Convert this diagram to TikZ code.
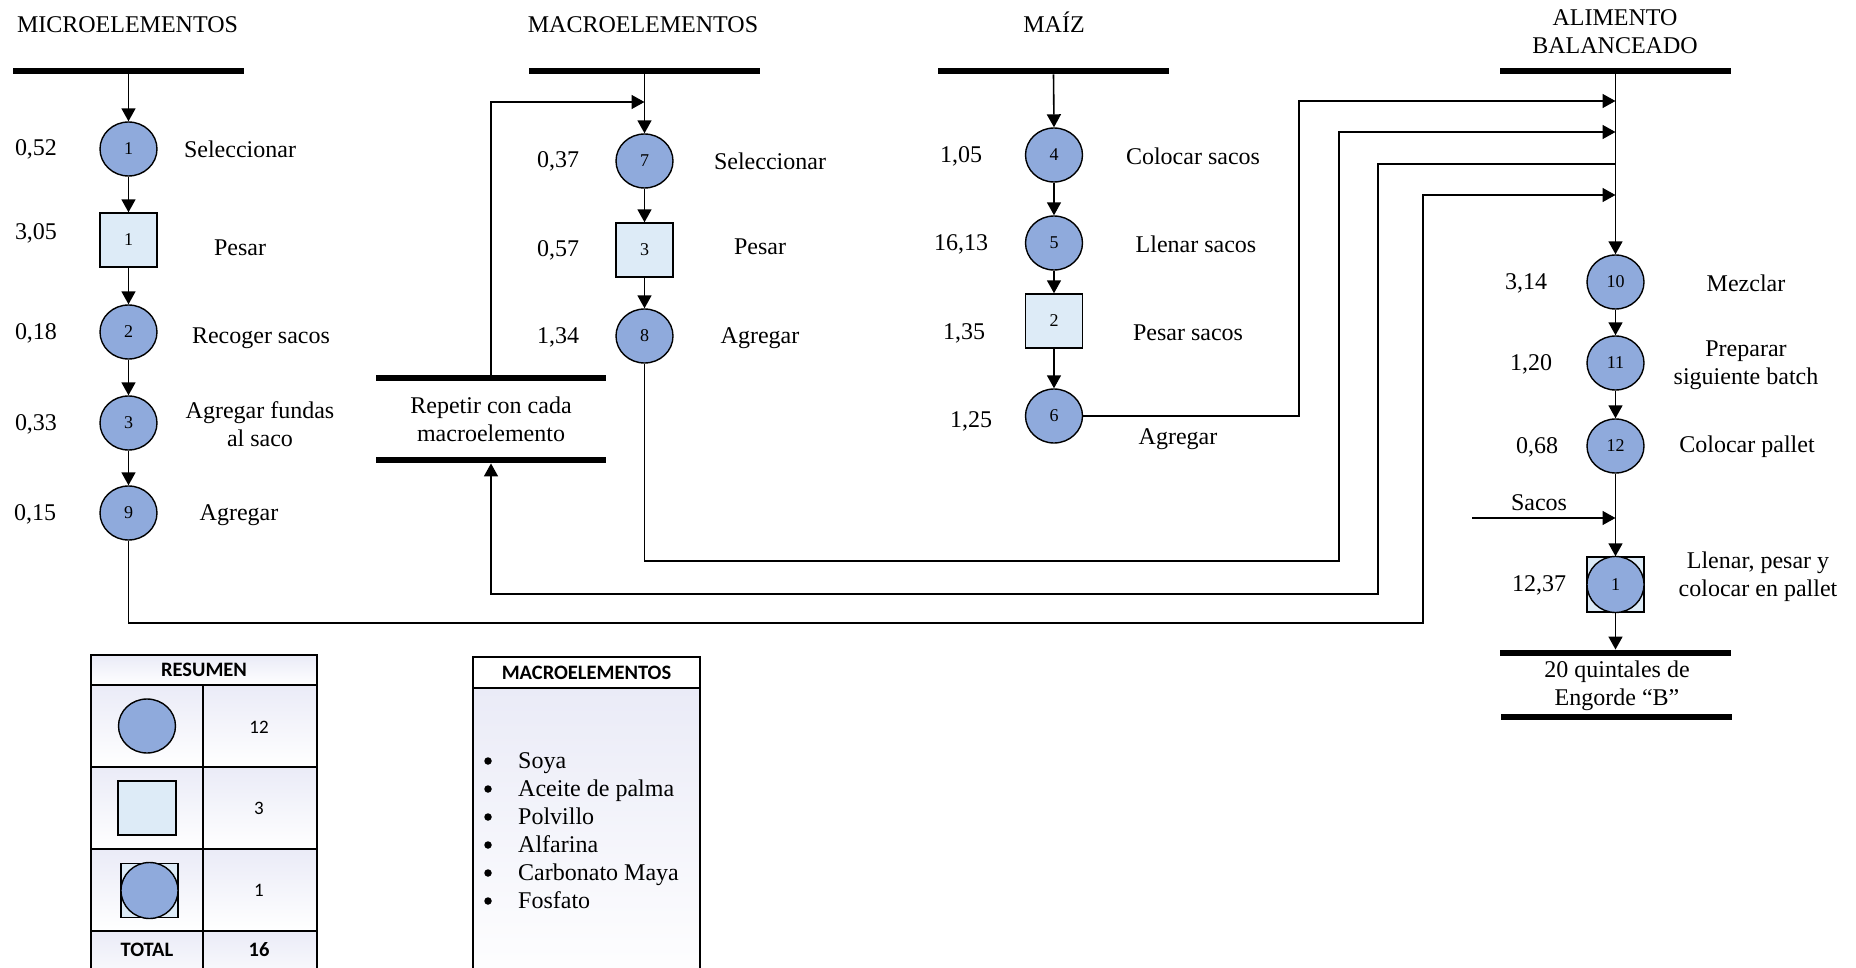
\documentclass[tikz,border=0pt]{standalone}
\usepackage{fontspec}
\setmainfont{Liberation Serif}
\newfontfamily\calib{Carlito}
\usetikzlibrary{arrows.meta,shapes.geometric}

\definecolor{opfill}{RGB}{143,170,220}
\definecolor{insfill}{RGB}{221,235,247}
\definecolor{cellshade}{RGB}{234,235,247}

\tikzset{
  lbl/.style={font=\fontsize{24}{28}\selectfont, align=center, inner sep=0pt},
  opc/.style={ellipse, draw, line width=1.4pt, fill=opfill, minimum width=57pt, minimum height=54pt, inner sep=0pt, font=\fontsize{18}{20}\selectfont},
  insp/.style={rectangle, draw, line width=1.4pt, fill=insfill, minimum width=57pt, minimum height=54pt, inner sep=0pt, font=\fontsize{18}{20}\selectfont},
  barnode/.style={rectangle, fill=black, minimum width=231pt, minimum height=6.5pt, inner sep=0pt},
  wire/.style={line width=1.6pt},
  flow/.style={wire, -{Triangle[length=13pt,width=14pt]}},
  cell/.style={draw, line width=1.5pt, top color=cellshade, bottom color=white},
  tabtxt/.style={font=\calib\fontsize{19}{22}\selectfont, inner sep=0pt},
  tabhead/.style={font=\calib\bfseries\fontsize{20.5}{22}\selectfont, inner sep=0pt},
  dot/.style={circle, fill=black, minimum size=7.5pt, inner sep=0pt},
}

\begin{document}
\begin{tikzpicture}[x=1pt,y=-1pt]
\useasboundingbox (0,0) rectangle (1856,968);
\clip (0,0) rectangle (1856,968);

% ---------- MICROELEMENTOS ----------
\node[lbl] at (127.5,25) {MICROELEMENTOS};
\node[barnode] (mb) at (128.5,71) {};
\node[opc]  (m1) at (128.5,149) {1};
\node[insp] (mi1) at (128.5,240) {1};
\node[opc]  (m2) at (128.5,332) {2};
\node[opc]  (m3) at (128.5,423) {3};
\node[opc]  (m9) at (128.5,513) {9};
\node[lbl] at (36,149) {0,52};
\node[lbl] at (36,233) {3,05};
\node[lbl] at (36,333) {0,18};
\node[lbl] at (36,424) {0,33};
\node[lbl] at (35,514) {0,15};
\node[lbl] at (240,149) {Seleccionar};
\node[lbl] at (240,248) {Pesar};
\node[lbl] at (261,338) {Recoger sacos};
\node[lbl] at (260,424) {Agregar fundas\\al saco};
\node[lbl] at (239,515) {Agregar};
\draw[flow] (mb.south) -- (m1.north);
\draw[flow] (m1) -- (mi1);
\draw[flow] (mi1) -- (m2);
\draw[flow] (m2) -- (m3);
\draw[flow] (m3) -- (m9);

% ---------- MACROELEMENTOS ----------
\node[lbl] at (643,25) {MACROELEMENTOS};
\node[barnode] (ab0) at (644.5,71) {};
\coordinate (k0) at (644.5,102);
\node[opc]  (a7) at (644.5,161) {7};
\node[insp] (ai3) at (644.5,250) {3};
\node[opc]  (a8) at (644.5,336) {8};
\node[lbl] at (558,161) {0,37};
\node[lbl] at (558,250) {0,57};
\node[lbl] at (558,337) {1,34};
\node[lbl] at (770,161) {Seleccionar};
\node[lbl] at (760,247) {Pesar};
\node[lbl] at (760,338) {Agregar};
\draw[flow] (ab0.south) -- (a7.north);
\draw[flow] (a7) -- (ai3);
\draw[flow] (ai3) -- (a8);

% repeat block
\node[barnode, minimum width=230pt] (rt) at (491,378) {};
\node[barnode, minimum width=230pt] (rb) at (491,460) {};
\node[lbl] at (491,419) {Repetir con cada\\macroelemento};
\draw[flow] (rt.north) -- (491,102) -- (k0);

% ---------- MAIZ ----------
\node[lbl] at (1054,22) {MAÍZ};
\node[barnode] (zb) at (1053.5,71) {};
\node[opc]  (z4) at (1054,155) {4};
\node[opc]  (z5) at (1054,243) {5};
\node[insp] (zi2) at (1054,321) {2};
\node[opc]  (z6) at (1054,416) {6};
\node[lbl] at (961,156) {1,05};
\node[lbl] at (961,244) {16,13};
\node[lbl] at (964,333) {1,35};
\node[lbl] at (971,421) {1,25};
\node[lbl] at (1193,156) {Colocar sacos};
\node[lbl] at (1196,244) {Llenar sacos};
\node[lbl] at (1188,333) {Pesar sacos};
\node[lbl] at (1178,439) {Agregar};
\draw[flow] (zb.south) -- (z4.north);
\draw[flow] (z4) -- (z5);
\draw[flow] (z5) -- (zi2);
\draw[flow] (zi2) -- (z6);

% ---------- ALIMENTO BALANCEADO ----------
\node[lbl] at (1615,32) {ALIMENTO\\BALANCEADO};
\node[barnode] (fb) at (1615.5,71) {};
\coordinate (j1) at (1615.5,101);
\coordinate (j2) at (1615.5,132);
\coordinate (j3) at (1615.5,164);
\coordinate (j4) at (1615.5,195);
\node[opc] (f10) at (1615.5,282) {10};
\node[opc] (f11) at (1615.5,363) {11};
\node[opc] (f12) at (1615.5,446) {12};
\node[insp, minimum height=55pt] (fcs) at (1615.5,584.5) {};
\node[opc, minimum height=56pt] (fc) at (1615.5,584.5) {1};
\node[barnode] (e1) at (1615.5,653) {};
\node[barnode] (e2) at (1616.5,717) {};
\node[lbl] at (1617,686) {20 quintales de\\Engorde “B”};
\node[lbl] at (1526,283) {3,14};
\node[lbl] at (1531,364) {1,20};
\node[lbl] at (1537,447) {0,68};
\node[lbl] at (1539,585) {12,37};
\node[lbl] at (1746,283) {Mezclar};
\node[lbl] at (1746,365) {Preparar\\siguiente batch};
\node[lbl] at (1747,447) {Colocar pallet};
\node[lbl] at (1758,577) {Llenar, pesar y\\colocar en pallet};
\draw[flow] (fb.south) -- (f10.north);
\draw[flow] (f10) -- (f11);
\draw[flow] (f11) -- (f12);
\draw[flow] (f12.south) -- (fcs.north);
\draw[flow] (fcs.south) -- (e1.north);
\coordinate (s0) at (1472,518);
\coordinate (s1) at (1615.5,518);
\draw[flow] (s0) -- (s1);
\node[lbl] at (1539,503) {Sacos};

% ---------- connecting loops ----------
\draw[flow] (z6.east) -- (1299,416) -- (1299,101) -- (j1);
\draw[flow] (a8.south) -- (644.5,561) -- (1339,561) -- (1339,132) -- (j2);
\draw[flow] (j3) -- (1378,164) -- (1378,594) -- (491,594) -- (rb.south);
\draw[flow] (m9.south) -- (128.5,623) -- (1423,623) -- (1423,195) -- (j4);

% ---------- RESUMEN table ----------
\path[cell] (91,655) rectangle (317,685);
\node[tabhead] at (204,670) {RESUMEN};
\path[cell] (91,685) rectangle (203,767);
\path[cell] (203,685) rectangle (317,767);
\path[cell] (91,767) rectangle (203,849);
\path[cell] (203,767) rectangle (317,849);
\path[cell] (91,849) rectangle (203,931);
\path[cell] (203,849) rectangle (317,931);
\path[cell] (91,931) rectangle (203,990);
\path[cell] (203,931) rectangle (317,990);
\node[opc] (t1) at (147,726) {};
\node[insp, minimum width=58pt] (t2) at (147,808) {};
\node[insp] (t3s) at (149.5,890.5) {};
\node[opc, minimum width=57pt, minimum height=56pt] (t3) at (149.5,890.5) {};
\node[tabtxt] at (259,727) {12};
\node[tabtxt] at (259,808) {3};
\node[tabtxt] at (259,890) {1};
\node[tabhead] at (147,950) {TOTAL};
\node[tabhead] at (259,950) {16};

% ---------- MACROELEMENTOS list ----------
\path[cell] (473,688) rectangle (700,990);
\path[draw, line width=1.5pt, fill=white] (473,657) rectangle (700,688);
\node[tabhead] at (586.5,672.5) {MACROELEMENTOS};
\foreach \t [count=\i from 0] in {Soya,Aceite de palma,Polvillo,Alfarina,Carbonato Maya,Fosfato}{
  \node[dot] (b\i) at (488,761+28*\i) {};
  \node[lbl, anchor=west] (it\i) at (518,763+28*\i) {\strut\t};
}
\end{tikzpicture}
\end{document}
